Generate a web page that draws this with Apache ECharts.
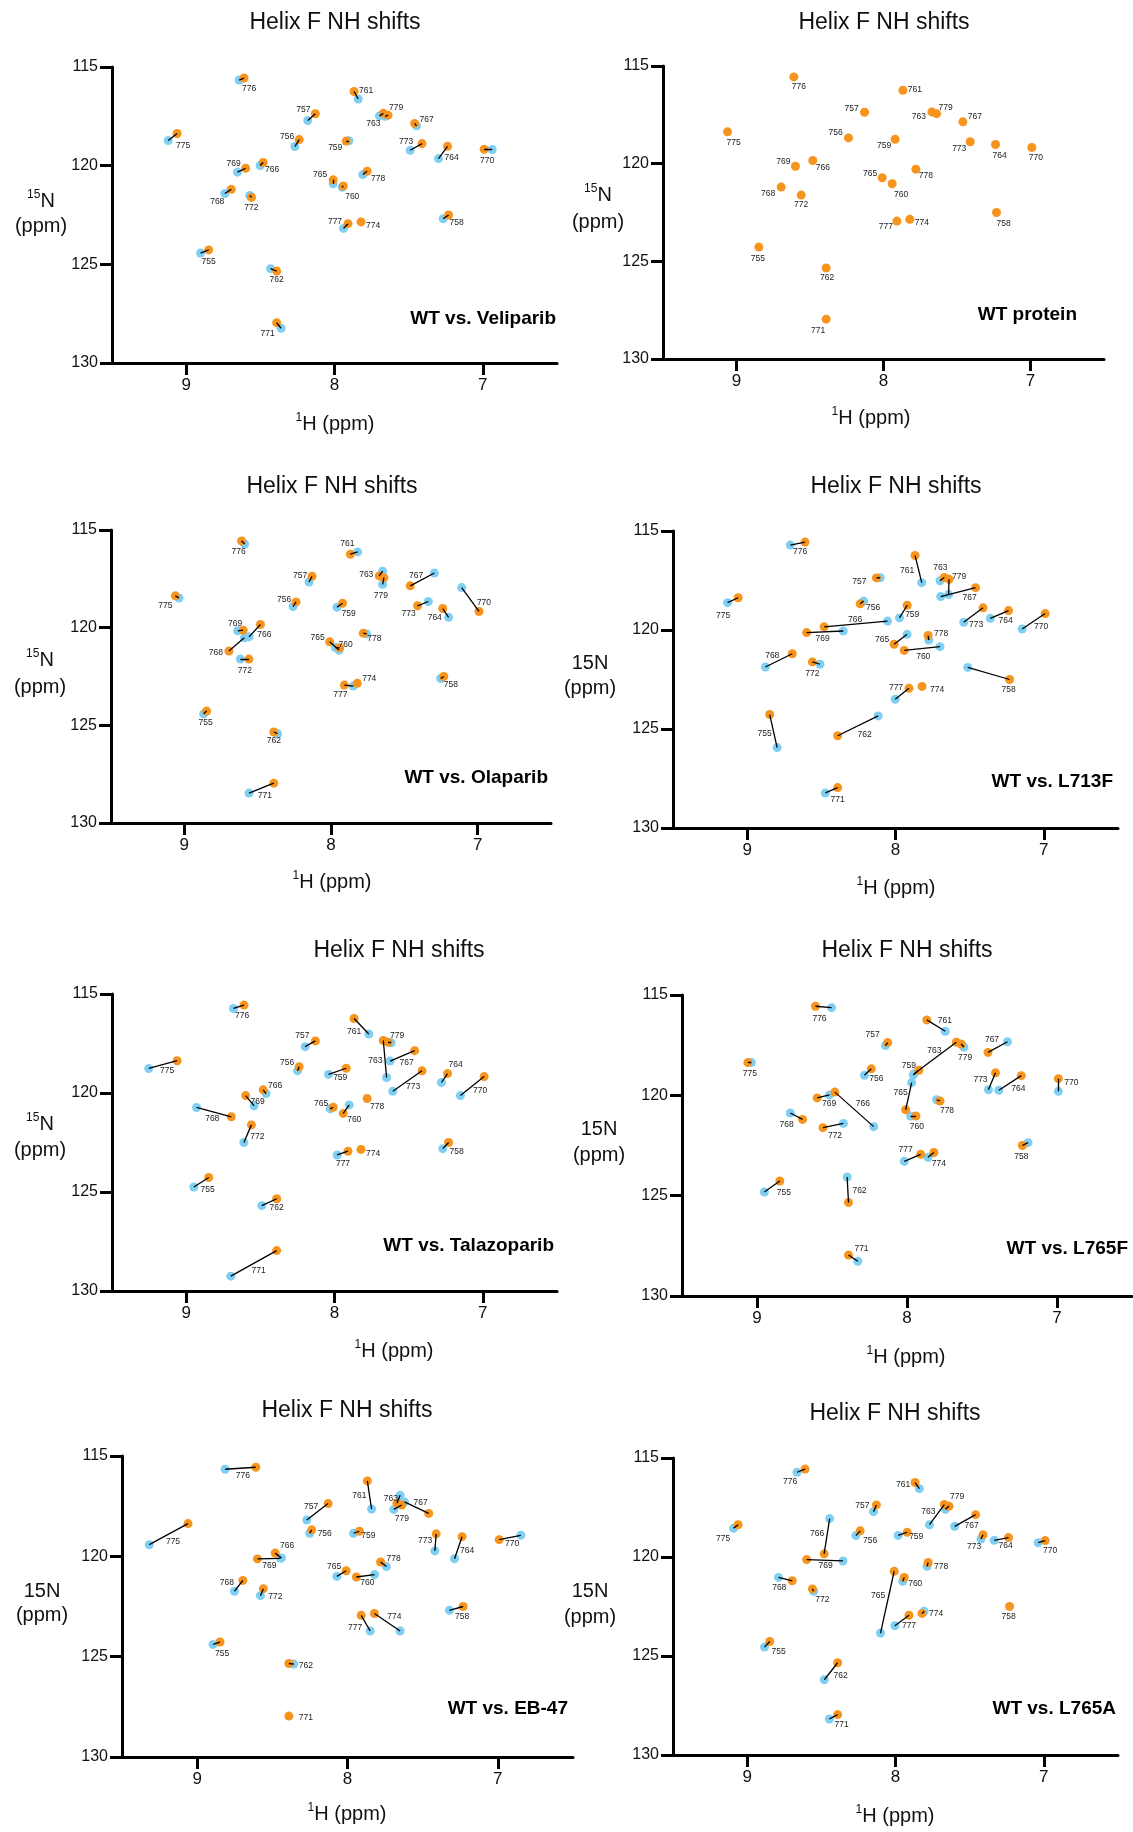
<!DOCTYPE html>
<html>
<head>
<meta charset="utf-8">
<title>Helix F NH shifts</title>
<script src="https://cdn.jsdelivr.net/npm/echarts@6/dist/echarts.min.js"></script>
<style>
  html, body { margin: 0; padding: 0; background: #fff; }
  #chart { width: 1133px; height: 1832px; }
</style>
</head>
<body>
<div id="chart"></div>
<script>
// residues of helix F
const residues = [755, 756, 757, 758, 759, 760, 761, 762, 763, 764, 765, 766, 767,
  768, 769, 770, 771, 772, 773, 774, 775, 776, 777, 778, 779];

// WT protein peaks (1H ppm / 15N ppm)
const wtH = [8.848, 8.238, 8.129, 7.231, 7.921, 7.941, 7.868, 8.390, 7.671, 7.238, 8.009, 8.481, 7.460,
  8.696, 8.599, 6.991, 8.390, 8.560, 7.410, 7.821, 9.061, 8.610, 7.909, 7.780, 7.639];
const wtN = [124.27, 118.68, 117.37, 122.50, 118.75, 121.03, 116.24, 125.34, 117.35, 119.02, 120.72, 119.84, 117.86,
  121.20, 120.13, 119.17, 127.96, 121.61, 118.88, 122.85, 118.37, 115.56, 122.94, 120.28, 117.44];

// compared peaks (null = not shown)
const velipH = [8.903, 8.267, 8.180, 7.267, 7.903, 7.948, 7.840, 8.431, 7.697, 7.299, 8.009, 8.501, 7.447,
  8.739, 8.654, 6.937, 8.360, 8.571, 7.490, null, 9.121, 8.643, 7.939, 7.809, 7.658];
const velipN = [124.43, 119.03, 117.71, 122.69, 118.74, 121.10, 116.62, 125.22, 117.48, 119.64, 120.92, 119.99, 117.98,
  121.41, 120.33, 119.18, 128.24, 121.51, 119.22, null, 118.73, 115.66, 123.18, 120.45, 117.50];

const olapH = [8.868, 8.259, 8.150, 7.252, 7.959, 7.970, 7.818, 8.364, 7.648, 7.198, 7.945, 8.559, 7.295,
  8.591, 8.636, 7.109, 8.559, 8.618, 7.336, null, 9.036, 8.589, 7.848, 7.757, 7.648];
const olapN = [124.41, 118.92, 117.66, 122.60, 118.95, 121.02, 116.12, 125.43, 117.11, 119.47, 121.15, 120.47, 117.20,
  120.52, 120.16, 117.95, 128.47, 121.61, 118.66, null, 118.48, 115.72, 122.99, 120.32, 117.78];

const l713fH = [8.798, 8.215, 8.103, 7.513, 7.973, 7.700, 7.823, 8.117, 7.700, 7.361, 7.922, 8.054, 7.695,
  8.877, 8.352, 7.146, 8.473, 8.509, 7.540, null, 9.132, 8.709, 8.002, 7.776, 7.642];
const l713fN = [125.94, 118.54, 117.36, 121.89, 119.39, 120.84, 117.61, 124.34, 117.51, 119.41, 120.22, 119.55, 118.31,
  121.87, 120.05, 119.95, 128.23, 121.73, 119.61, null, 118.62, 115.71, 123.50, 120.51, 118.21];

const talaH = [8.948, 8.249, 8.198, 7.270, 8.040, 7.901, 7.769, 8.490, 7.649, 7.279, 8.029, 8.461, 7.625,
  8.930, 8.542, 7.151, 8.699, 8.611, 7.607, null, 9.252, 8.681, 7.982, null, 7.618];
const talaN = [124.75, 118.88, 117.66, 122.81, 119.06, 120.60, 117.02, 125.69, 119.22, 119.47, 120.80, 120.03, 118.39,
  120.73, 120.65, 120.13, 129.25, 122.50, 119.91, null, 118.76, 115.73, 123.13, null, 117.46];

const l765fH = [8.951, 8.284, 8.144, 7.193, 7.958, 7.976, 7.745, 8.399, 7.953, 7.388, 7.969, 8.222, 7.330,
  8.778, 8.517, 6.991, 8.328, 8.424, 7.457, 7.860, 9.038, 8.503, 8.018, 7.803, 7.621];
const l765fN = [124.82, 119.00, 117.52, 122.36, 118.99, 121.03, 116.81, 124.07, 118.92, 119.75, 119.37, 121.56, 117.33,
  120.88, 119.98, 119.80, 128.27, 121.40, 119.72, 123.09, 118.37, 115.63, 123.29, 120.22, 117.59];

const eb47H = [8.894, 8.251, 8.271, 7.322, 7.960, 7.820, 7.840, 8.357, 7.650, 7.288, 8.071, 8.439, 7.621,
  8.752, 8.446, 6.847, null, 8.579, 7.419, 7.650, 9.319, 8.814, 7.849, 7.741, 7.692];
const eb47N = [124.39, 118.85, 118.19, 122.69, 118.85, 120.91, 117.64, 125.37, 116.96, 120.12, 121.00, 120.08, 117.29,
  121.74, 120.10, 118.95, null, 121.96, 119.73, 123.72, 119.42, 115.66, 123.72, 120.51, 117.66];

const l765aH = [8.883, 8.267, 8.148, null, 7.982, 7.951, 7.839, 8.480, 7.771, 7.334, 8.101, 8.444, 7.601,
  8.789, 8.354, 7.038, 8.446, 8.552, 7.424, 7.807, 9.092, 8.664, 8.004, 7.787, 7.664];
const l765aN = [124.55, 118.92, 117.71, null, 118.91, 121.23, 116.55, 126.20, 118.37, 119.16, 123.84, 118.06, 118.45,
  121.03, 120.20, 119.28, 128.18, 121.73, 119.09, 122.74, 118.55, 115.72, 123.47, 120.47, 117.59];

// axis ticks
const hTicks = [7, 8, 9];
const nTicks = [115, 120, 125, 130];

// residue label offsets (px from the WT dot), in residue order
const labWT = [[-1,12],[-13,-5],[-13,-4],[7,11],[-11,6],[9,11],[12,-1],[1,10],[-13,5],[4,11],[-12,-4],[10,7],[12,-5],
  [-13,7],[-12,-5],[4,10],[-8,12],[0,10],[-11,7],[12,3],[6,11],[5,10],[-11,6],[10,7],[9,-6]];
const labVelip = [[0,12],[-12,-3],[-12,-4],[8,8],[-11,7],[9,11],[12,-1],[0,9],[-10,10],[4,11],[-13,-5],[9,7],[12,-4],
  [-14,12],[-12,-5],[3,11],[-9,11],[0,10],[-16,-2],[12,4],[6,12],[5,11],[-13,-2],[11,7],[8,-7]];
const labOlap = [[-1,12],[-12,-2],[-12,-1],[7,8],[6,10],[6,-3],[-3,-11],[0,9],[-13,-1],[-8,9],[-12,-4],[4,10],[6,-10],
  [-13,2],[-8,-7],[5,-9],[-9,13],[-4,12],[-9,8],[12,-5],[-10,10],[-3,11],[-4,10],[11,6],[-3,18]];
const labL713F = [[-5,19],[13,4],[-17,4],[-1,10],[5,9],[19,6],[-8,15],[27,-1],[-4,-10],[-3,10],[-12,-5],[31,-7],[-6,10],
  [-20,2],[16,6],[-4,13],[0,12],[0,12],[-7,17],[15,3],[-15,18],[-5,10],[-13,-1],[13,-2],[10,-3]];
const labTala = [[-1,12],[-12,-4],[-13,-5],[8,9],[-6,9],[11,6],[0,13],[0,9],[-8,20],[8,-9],[-12,-4],[12,-4],[-8,12],
  [-19,2],[12,6],[-4,14],[-18,20],[6,12],[-9,16],[12,4],[-10,10],[-2,11],[-5,12],[10,8],[9,-7]];
const labL765F = [[4,12],[5,10],[-15,-8],[-1,11],[-10,-5],[1,11],[18,1],[11,-12],[-22,8],[-3,13],[-5,-17],[28,12],[4,-13],
  [-16,5],[12,6],[13,4],[13,-6],[12,8],[-15,7],[5,11],[2,11],[4,12],[-15,-5],[7,10],[4,14]];
const labEB47 = [[2,12],[13,4],[-17,3],[-1,10],[9,4],[11,6],[-8,15],[17,2],[-6,-5],[5,14],[-12,-4],[12,-7],[-8,-11],
  [-16,2],[12,7],[13,4],[17,2],[12,8],[-11,7],[20,3],[-15,18],[-13,8],[-6,12],[13,-3],[0,14]];
const labL765A = [[9,10],[10,10],[-14,1],[-1,10],[9,4],[11,6],[-12,2],[3,13],[-16,7],[-3,8],[-16,24],[-7,-20],[-4,11],
  [-13,7],[19,6],[5,10],[4,10],[10,11],[-9,12],[14,0],[-15,14],[-15,13],[0,10],[13,4],[8,-10]];

const FONT = '"Liberation Sans", Arial, Helvetica, sans-serif';
const ORANGE = '#F7941D';
const BLUE = '#7FCFF3';

// panel layout: grid [left, top, width, height], title, x name, y name, tag
const panels = [
  { tag: 'WT vs. Veliparib', h: velipH, n: velipN, lab: labVelip, grid: [112, 67, 445, 296],
    title: [335, 23], xName: [335, 424], yName: [41, 201, 226], sup: true, tagPos: [556, 319] },
  { tag: 'WT protein', h: null, n: null, lab: labWT, grid: [663, 66, 441, 293],
    title: [884, 23], xName: [871, 418], yName: [598, 195, 222], sup: true, tagPos: [1077, 315] },
  { tag: 'WT vs. Olaparib', h: olapH, n: olapN, lab: labOlap, grid: [111, 530, 440, 293],
    title: [332, 487], xName: [332, 882], yName: [40, 660, 687], sup: true, tagPos: [548, 778] },
  { tag: 'WT vs. L713F', h: l713fH, n: l713fN, lab: labL713F, grid: [673, 531, 445, 297],
    title: [896, 487], xName: [896, 888], yName: [590, 663, 688], sup: false, tagPos: [1113, 782] },
  { tag: 'WT vs. Talazoparib', h: talaH, n: talaN, lab: labTala, grid: [112, 994, 445, 297],
    title: [399, 951], xName: [394, 1351], yName: [40, 1124, 1150], sup: true, tagPos: [554, 1246] },
  { tag: 'WT vs. L765F', h: l765fH, n: l765fN, lab: labL765F, grid: [682, 995, 450, 301],
    title: [907, 951], xName: [906, 1357], yName: [599, 1129, 1155], sup: false, tagPos: [1128, 1249] },
  { tag: 'WT vs. EB-47', h: eb47H, n: eb47N, lab: labEB47, grid: [122, 1456, 451, 301],
    title: [347, 1411], xName: [347, 1814], yName: [42, 1591, 1615], sup: false, tagPos: [568, 1709] },
  { tag: 'WT vs. L765A', h: l765aH, n: l765aN, lab: labL765A, grid: [673, 1458, 445, 297],
    title: [895, 1414], xName: [895, 1816], yName: [590, 1591, 1617], sup: false, tagPos: [1116, 1709] }
];

const axisLineStyle = { color: '#000', width: 3 };

const grids = [];
const xAxes = [];
const yAxes = [];
const series = [];
const graphics = [];

const text = (x, y, str, size, extra) => ({
  type: 'text', x: x, y: y, silent: true,
  style: Object.assign({ text: str, fontSize: size, fontFamily: FONT, fill: '#111',
    align: 'center', verticalAlign: 'middle' }, extra || {})
});

panels.forEach((p, i) => {
  grids.push({ left: p.grid[0], top: p.grid[1], width: p.grid[2], height: p.grid[3] });

  xAxes.push({
    gridIndex: i, type: 'value', min: 6.5, max: 9.5, inverse: true,
    splitLine: { show: false },
    axisLine: { onZero: false, lineStyle: axisLineStyle },
    axisTick: { customValues: hTicks, length: 12, lineStyle: axisLineStyle },
    axisLabel: { customValues: hTicks, fontSize: 17, fontFamily: FONT, color: '#111', margin: 14 }
  });
  yAxes.push({
    gridIndex: i, type: 'value', min: 115, max: 130, interval: 5, inverse: true,
    splitLine: { show: false },
    axisLine: { onZero: false, lineStyle: axisLineStyle },
    axisTick: { customValues: nTicks, length: 12, lineStyle: axisLineStyle },
    axisLabel: { customValues: nTicks, fontSize: 16, fontFamily: FONT, color: '#111', margin: 14 }
  });

  const wt = [];
  const other = [];
  const links = [];
  residues.forEach((r, k) => {
    wt.push({ value: [wtH[k], wtN[k]], name: String(r), label: { offset: p.lab[k] } });
    if (p.h && p.h[k] != null) {
      other.push([p.h[k], p.n[k]]);
      links.push({ coords: [[wtH[k], wtN[k]], [p.h[k], p.n[k]]] });
    }
  });

  if (other.length) {
    series.push({
      type: 'scatter', xAxisIndex: i, yAxisIndex: i, data: other, symbolSize: 9,
      itemStyle: { color: BLUE, opacity: 1 }, z: 2, silent: true
    });
  }
  series.push({
    type: 'scatter', xAxisIndex: i, yAxisIndex: i, data: wt, symbolSize: 9,
    itemStyle: { color: ORANGE, opacity: 1 }, z: 3, silent: true,
    label: {
      show: true, position: 'inside', formatter: (d) => d.name,
      fontSize: 8.5, fontFamily: FONT, color: '#222', align: 'center', verticalAlign: 'middle'
    }
  });
  if (links.length) {
    series.push({
      type: 'lines', coordinateSystem: 'cartesian2d', xAxisIndex: i, yAxisIndex: i,
      data: links, z: 4, silent: true,
      lineStyle: { color: '#000', width: 1.3, opacity: 1 }
    });
  }

  graphics.push(text(p.title[0], p.title[1], 'Helix F NH shifts', 23));
  graphics.push(text(p.xName[0], p.xName[1], '{s|1}{n|H (ppm)}', 20, {
    rich: {
      s: { fontSize: 12, lineHeight: 12, verticalAlign: 'top', fontFamily: FONT, fill: '#111' },
      n: { fontSize: 20, lineHeight: 24, fontFamily: FONT, fill: '#111' }
    }
  }));
  if (p.sup) {
    graphics.push(text(p.yName[0], p.yName[1], '{s|15}{n|N}', 20, {
      rich: {
        s: { fontSize: 12, lineHeight: 12, verticalAlign: 'top', fontFamily: FONT, fill: '#111' },
        n: { fontSize: 20, lineHeight: 24, fontFamily: FONT, fill: '#111' }
      }
    }));
  } else {
    graphics.push(text(p.yName[0], p.yName[1], '15N', 20));
  }
  graphics.push(text(p.yName[0], p.yName[2], '(ppm)', 20));
  graphics.push(text(p.tagPos[0], p.tagPos[1], p.tag, 19, { align: 'right', fontWeight: 'bold', fill: '#000' }));
});

const chart = echarts.init(document.getElementById('chart'));
chart.setOption({
  animation: false,
  backgroundColor: '#fff',
  grid: grids,
  xAxis: xAxes,
  yAxis: yAxes,
  series: series,
  graphic: { elements: graphics }
});
</script>
</body>
</html>
